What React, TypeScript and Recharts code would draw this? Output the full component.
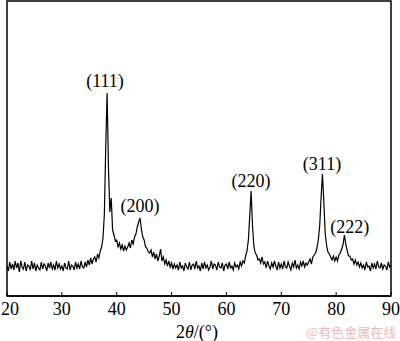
import React from "react";
import {
  LineChart,
  Line,
  XAxis,
  YAxis,
  ReferenceDot,
  ReferenceArea,
} from "recharts";

// 2θ step of the scan, degrees
const startAngle = 20;
const step = 0.25;

// intensity, one row per degree (4 points each)
const intensity = [
  30, 25, 34, 27, // 20
  32, 26, 35, 28, // 21
  33, 24, 35, 29, // 22
  27, 34, 25, 31, // 23
  30, 26, 35, 27, // 24
  33, 25, 31, 28, // 25
  26, 34, 27, 32, // 26
  30, 25, 33, 28, // 27
  34, 27, 31, 26, // 28
  35, 28, 32, 27, // 29
  30, 25, 33, 28, // 30
  27, 35, 26, 31, // 31
  30, 26, 34, 28, // 32
  32, 27, 35, 29, // 33
  28, 34, 29, 36, // 34
  31, 38, 32, 37, // 35
  39, 34, 42, 38, // 36
  45, 49, 58, 82, // 37
  150, 203, 128, 84, // 38
  98, 66, 61, 55, // 39
  56, 49, 53, 47, // 40
  51, 45, 50, 46, // 41
  49, 53, 48, 56, // 42
  52, 59, 62, 69, // 43
  74, 78, 67, 59, // 44
  56, 49, 48, 44, // 45
  43, 46, 39, 44, // 46
  37, 42, 35, 40, // 47
  47, 35, 39, 32, // 48
  36, 30, 35, 29, // 49
  33, 27, 32, 28, // 50
  31, 26, 34, 28, // 51
  30, 25, 33, 29, // 52
  27, 34, 26, 31, // 53
  32, 27, 35, 28, // 54
  30, 25, 33, 27, // 55
  34, 28, 31, 26, // 56
  29, 35, 27, 32, // 57
  31, 26, 34, 29, // 58
  28, 33, 25, 31, // 59
  32, 27, 34, 28, // 60
  30, 26, 33, 29, // 61
  31, 27, 34, 30, // 62
  35, 33, 40, 45, // 63
  56, 80, 105, 71, // 64
  50, 43, 41, 36, // 65
  37, 33, 39, 32, // 66
  34, 28, 35, 30, // 67
  27, 33, 29, 35, // 68
  30, 26, 34, 28, // 69
  32, 27, 35, 29, // 70
  28, 34, 30, 26, // 71
  33, 29, 36, 28, // 72
  31, 27, 34, 30, // 73
  35, 29, 33, 31, // 74
  34, 37, 32, 39, // 75
  41, 43, 48, 56, // 76
  70, 98, 122, 95, // 77
  63, 51, 44, 42, // 78
  39, 36, 40, 35, // 79
  39, 35, 41, 43, // 80
  47, 51, 61, 52, // 81
  46, 40, 40, 36, // 82
  37, 32, 36, 31, // 83
  34, 29, 33, 28, // 84
  31, 26, 34, 29, // 85
  30, 25, 33, 28, // 86
  32, 27, 35, 29, // 87
  28, 33, 27, 31, // 88
  30, 26, 34, 29, // 89
  31, // 90
];

const xTicks = [20, 30, 40, 50, 60, 70, 80, 90];

// peak index labels and where they sit (2θ, intensity)
const peakLabels = ["(111)", "(200)", "(220)", "(311)", "(222)"];
const peakLabelX = [37.86, 44.24, 64.48, 77.42, 82.5];
const peakLabelY = [215, 90, 115, 132, 69];

const data = intensity.map((v, i) => ({
  angle: startAngle + i * step,
  value: v,
}));

const font = '"Liberation Serif", "Times New Roman", serif';

const BottomTick = (props: any) => {
  const { x, y, payload } = props;
  // keep the first label inside the page like the original
  const tx = Math.max(x, 10);
  return (
    <g>
      <line x1={x} x2={x} y1={y} y2={y - 4} stroke="#000" strokeWidth={1} />
      <text
        x={tx}
        y={y + 19}
        textAnchor="middle"
        fontSize={18}
        fontFamily={font}
        fill="#000"
      >
        {payload.value}
      </text>
    </g>
  );
};

export default function App() {
  return (
    <div style={{ position: "absolute", left: 0, top: 0, width: 400, height: 341, background: "#fff" }}>
      <LineChart
        width={400}
        height={341}
        data={data}
        margin={{ top: 1, right: 9, left: 7, bottom: 0 }}
      >
        <XAxis
          dataKey="angle"
          type="number"
          domain={[20, 90]}
          ticks={xTicks}
          interval={0}
          height={45}
          axisLine={{ stroke: "#000", strokeWidth: 1.5 }}
          tickLine={false}
          tickSize={0}
          tickMargin={0}
          tick={<BottomTick />}
          allowDataOverflow
        />
        <YAxis type="number" domain={[0, 295]} hide />
        <ReferenceArea
          x1={20}
          x2={90}
          y1={0}
          y2={295}
          fill="none"
          fillOpacity={0}
          stroke="#000"
          strokeWidth={1.5}
          strokeOpacity={1}
        />
        <Line
          type="linear"
          dataKey="value"
          stroke="#000"
          strokeWidth={1.2}
          dot={false}
          isAnimationActive={false}
        />
        {peakLabels.map((label, i) => (
          <ReferenceDot
            key={label}
            x={peakLabelX[i]}
            y={peakLabelY[i]}
            r={0}
            shape={(p: any) => (
              <text
                x={p.cx}
                y={p.cy}
                textAnchor="middle"
                dominantBaseline="central"
                fontSize={18}
                fontFamily={font}
                fill="#000"
              >
                {label}
              </text>
            )}
          />
        ))}
      </LineChart>
      <div
        style={{
          position: "absolute",
          left: 176,
          top: 320,
          fontFamily: font,
          fontSize: 18,
          lineHeight: "24px",
          color: "#000",
          whiteSpace: "nowrap",
        }}
      >
        2<i>θ</i>/(°)
      </div>
      <div
        style={{
          position: "absolute",
          left: 306,
          top: 323,
          fontFamily: '"Noto Sans CJK SC", sans-serif',
          fontSize: 13,
          lineHeight: "18px",
          color: "#f3b9b9",
          whiteSpace: "nowrap",
        }}
      >
        @有色金属在线
      </div>
    </div>
  );
}
